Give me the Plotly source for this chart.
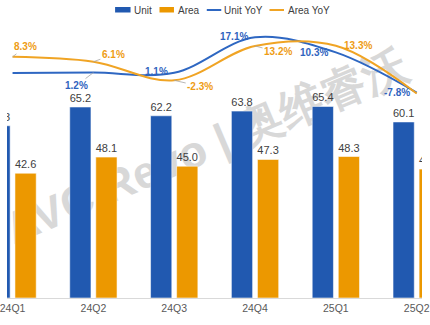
import plotly.graph_objects as go

# Quarterly shipments (bars, left axis) and year-on-year growth (lines, right axis)
quarters = ["24Q1", "24Q2", "24Q3", "24Q4", "25Q1", "25Q2"]
unit = [58.8, 65.2, 62.2, 63.8, 65.4, 60.1]
area = [42.6, 48.1, 45.0, 47.3, 48.3, 44.0]
unit_yoy = [1.0, 1.2, 1.1, 17.1, 10.3, -7.8]
area_yoy = [8.3, 6.1, -2.3, 13.2, 13.3, -8.2]

BLUE = "#2159B0"
ORANGE = "#EC9800"
BLUE_LINE = "#2E67C2"
ORANGE_LINE = "#F0A424"
BLUE_TXT = "#2F63BE"
ORANGE_TXT = "#EE9C14"
FONT = "Arial, Liberation Sans, sans-serif"

W, H = 430, 325
M_T, M_B = 20, 27
PLOT_H = H - M_T - M_B


def px_x(px):
    return px / W


def px_y(py):
    return (H - M_B - py) / PLOT_H


fig = go.Figure()

fig.add_trace(go.Bar(
    x=quarters, y=unit, name="Unit", marker=dict(color=BLUE, line=dict(color="rgba(255,255,255,0.55)", width=1)),
    texttemplate="%{y:.1f}", textposition="outside", constraintext="none",
    textfont=dict(family=FONT, size=11, color="#404040"), showlegend=False,
))
fig.add_trace(go.Bar(
    x=quarters, y=area, name="Area", marker=dict(color=ORANGE, line=dict(color="rgba(255,255,255,0.55)", width=1)),
    texttemplate="%{y:.1f}", textposition="outside", constraintext="none",
    textfont=dict(family=FONT, size=11, color="#404040"), showlegend=False,
))
fig.add_trace(go.Scatter(
    x=quarters, y=unit_yoy, name="Unit YoY", yaxis="y2", mode="lines",
    line=dict(color=BLUE_LINE, width=2, shape="spline", smoothing=1), showlegend=False,
))
fig.add_trace(go.Scatter(
    x=quarters, y=area_yoy, name="Area YoY", yaxis="y2", mode="lines",
    line=dict(color=ORANGE_LINE, width=2, shape="spline", smoothing=1), showlegend=False,
))

# Growth labels: (series values, colour, index, dx, dy, leader line)
label_specs = [
    (area_yoy, ORANGE_TXT, 0, 13, -10, True),
    (area_yoy, ORANGE_TXT, 1, 20, -7, True),
    (area_yoy, ORANGE_TXT, 2, 26, 6, True),
    (area_yoy, ORANGE_TXT, 3, 23, 6, True),
    (area_yoy, ORANGE_TXT, 4, 22, 0, False),
    (unit_yoy, BLUE_TXT, 1, -17, 13, True),
    (unit_yoy, BLUE_TXT, 2, -18, -1, False),
    (unit_yoy, BLUE_TXT, 3, -21, -1, False),
    (unit_yoy, BLUE_TXT, 4, -22, 0, False),
    (unit_yoy, BLUE_TXT, 5, -20, 0, False),
]
annotations = []
for vals, col, i, dx, dy, leader in label_specs:
    base = dict(x=quarters[i], y=vals[i], xref="x", yref="y2",
                text=f"{vals[i]:.1f}%", font=dict(family=FONT, size=10, color=col, weight=700))
    if leader:
        base.update(showarrow=True, ax=dx, ay=dy, axref="pixel", ayref="pixel",
                    arrowhead=0, arrowwidth=0.8, arrowcolor="#a6a6a6", standoff=0)
    else:
        base.update(showarrow=False, xshift=dx, yshift=-dy)
    annotations.append(base)

# Legend drawn along the top
legend_items = [
    ("Unit", "bar", BLUE, 112, 128, 130),
    ("Area", "bar", ORANGE, 158, 173, 175),
    ("Unit YoY", "line", BLUE_LINE, 207, 222, 223),
    ("Area YoY", "line", ORANGE_LINE, 272, 287, 289),
]
shapes = []
for name, kind, col, s0, s1, tx in legend_items:
    if kind == "bar":
        shapes.append(dict(type="rect", xref="paper", yref="paper",
                           x0=px_x(s0), x1=px_x(s1), y0=px_y(12.5), y1=px_y(7),
                           fillcolor=col, line=dict(width=0)))
    else:
        shapes.append(dict(type="line", xref="paper", yref="paper",
                           x0=px_x(s0), x1=px_x(s1), y0=px_y(10), y1=px_y(10),
                           line=dict(color=col, width=2)))
    annotations.append(dict(x=px_x(tx), y=px_y(10), xref="paper", yref="paper",
                            xanchor="left", yanchor="middle", showarrow=False,
                            text=name, font=dict(family=FONT, size=10, color="#404040")))

# Diagonal watermark kept beneath the bars
shapes.append(dict(
    type="rect", xref="paper", yref="paper", layer="below",
    x0=px_x(155), x1=px_x(255), y0=px_y(153), y1=px_y(133),
    line=dict(width=0), fillcolor="rgba(0,0,0,0)",
    label=dict(text="AVC Revo | 奥维睿沃", textangle=-23, textposition="middle center",
               font=dict(family=FONT, size=45, color="#d8d8d8", weight=700)),
))

fig.update_layout(
    width=W, height=H,
    margin=dict(l=0, r=0, t=M_T, b=M_B, pad=0),
    paper_bgcolor="white", plot_bgcolor="white",
    barmode="group", bargap=0.355, bargroupgap=0.185,
    showlegend=False,
    xaxis=dict(type="category", range=[-0.0687, 5.0657], showgrid=False,
               showline=True, linecolor="#d9d9d9", linewidth=1, ticks="",
               tickfont=dict(family=FONT, size=10.5, color="#595959"), fixedrange=True),
    yaxis=dict(range=[0, 94.9], visible=False, showgrid=False, zeroline=False),
    yaxis2=dict(range=[-100.4, 24.9], overlaying="y", side="right", visible=False,
                showgrid=False, zeroline=False),
    annotations=annotations,
    shapes=shapes,
)

fig.write_html("out.html")
